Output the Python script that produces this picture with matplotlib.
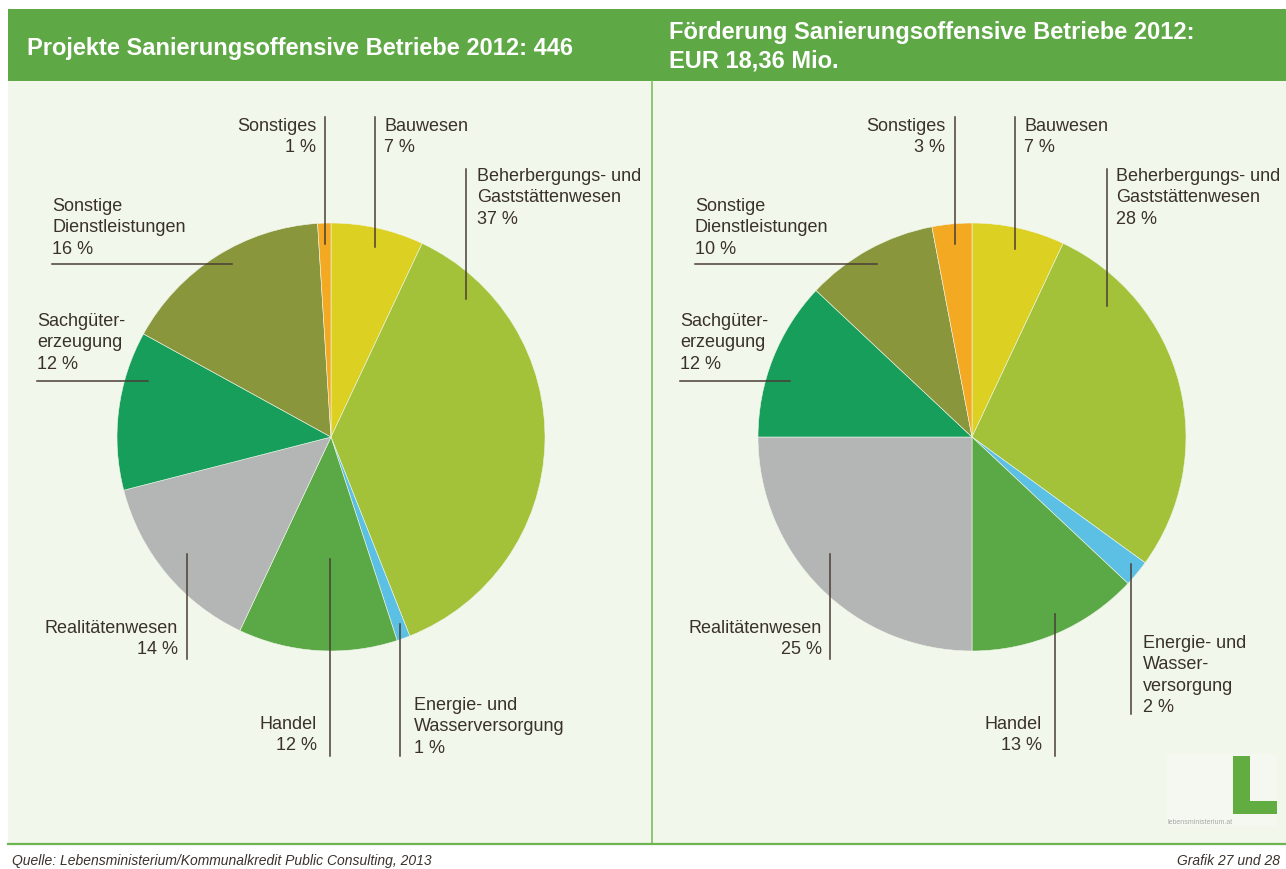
import numpy as np
import matplotlib.pyplot as plt
from matplotlib.patches import Rectangle, Polygon

plt.rcParams['font.family'] = ['Liberation Sans', 'DejaVu Sans']

# data (clockwise from 12 o'clock)
categories = ['Bauwesen', 'Beherbergungs- und Gaststättenwesen', 'Energie- und Wasserversorgung',
              'Handel', 'Realitätenwesen', 'Sachgütererzeugung', 'Sonstige Dienstleistungen', 'Sonstiges']
projekte_pct = [7, 37, 1, 12, 14, 12, 16, 1]
foerderung_pct = [7, 28, 2, 13, 25, 12, 10, 3]
colors = ['#dcd022', '#a3c23a', '#5bc0e4', '#5ba846', '#b3b6b5', '#169e5a', '#8a963c', '#f4a922']

names_left = ['Bauwesen', 'Beherbergungs- und\nGaststättenwesen', 'Energie- und\nWasserversorgung',
              'Handel', 'Realitätenwesen', 'Sachgüter-\nerzeugung', 'Sonstige\nDienstleistungen', 'Sonstiges']
names_right = ['Bauwesen', 'Beherbergungs- und\nGaststättenwesen', 'Energie- und\nWasser-\nversorgung',
               'Handel', 'Realitätenwesen', 'Sachgüter-\nerzeugung', 'Sonstige\nDienstleistungen', 'Sonstiges']

title_left = 'Projekte Sanierungsoffensive Betriebe 2012: 446'
title_right = 'Förderung Sanierungsoffensive Betriebe 2012:\nEUR 18,36 Mio.'

# label layout in pixels: text x, text y, alignment, leader line
layout_left = [
    (384, 118, 'left', (375, 118, 375, 248)),
    (477, 168, 'left', (466, 170, 466, 300)),
    (414, 697, 'left', (400, 625, 400, 757)),
    (317, 716, 'right', (330, 560, 330, 757)),
    (178, 620, 'right', (187, 555, 187, 660)),
    (37, 313, 'left', (37, 382, 148, 382)),
    (52, 198, 'left', (52, 265, 232, 265)),
    (316, 118, 'right', (325, 118, 325, 245)),
]
layout_right = [
    (1024, 118, 'left', (1015, 118, 1015, 250)),
    (1116, 168, 'left', (1107, 170, 1107, 307)),
    (1143, 635, 'left', (1131, 565, 1131, 715)),
    (1042, 716, 'right', (1055, 615, 1055, 757)),
    (822, 620, 'right', (830, 555, 830, 660)),
    (680, 313, 'left', (680, 382, 790, 382)),
    (695, 198, 'left', (695, 265, 877, 265)),
    (945, 118, 'right', (955, 118, 955, 245)),
]

W, H = 1286, 870
green = '#5fa846'
panel = '#f1f7ea'
line_col = '#4a3f36'
text_col = '#3a312b'

fig = plt.figure(figsize=(W / 100, H / 100), dpi=100)
fig.patch.set_facecolor('white')

# background axes in pixel coordinates
bg = fig.add_axes([0, 0, 1, 1], zorder=0)
bg.set_xlim(0, W)
bg.set_ylim(H, 0)
bg.axis('off')
bg.add_patch(Rectangle((8, 82), W - 8, 763, color=panel, lw=0))
bg.add_patch(Rectangle((8, 10), W - 8, 72, color=green, lw=0))
bg.plot([652, 652], [82, 845], color='#7dbd5f', lw=1.2)
bg.plot([8, W], [845, 845], color='#6db552', lw=1.6)

bg.text(27, 48, title_left, color='white', fontsize=17, fontweight='bold', va='center', ha='left')
bg.text(669, 47, title_right, color='white', fontsize=17, fontweight='bold', va='center', ha='left',
        linespacing=1.3)

bg.text(12, 861, 'Quelle: Lebensministerium/Kommunalkredit Public Consulting, 2013',
        fontsize=10, style='italic', color=text_col, va='center', ha='left')
bg.text(1280, 861, 'Grafik 27 und 28', fontsize=10, style='italic', color=text_col,
        va='center', ha='right')

# logo
bg.add_patch(Rectangle((1167, 755), 110, 72, color='#f5f8f1', lw=0))
bg.add_patch(Polygon([(1233, 757), (1250, 757), (1250, 802), (1277, 802), (1277, 815), (1233, 815)],
                     closed=True, color='#62ad42', lw=0))
bg.text(1168, 823, 'lebensministerium.at', fontsize=5, color='#a8aaa6', va='center', ha='left')

# pies
for cx, values in [(331, projekte_pct), (972, foerderung_pct)]:
    r = 214
    ax = fig.add_axes([(cx - r) / W, (H - 438 - r) / H, 2 * r / W, 2 * r / H], zorder=1)
    ax.pie(values, colors=colors, startangle=90, counterclock=False,
           wedgeprops=dict(edgecolor=panel, linewidth=0.4))
    ax.set_xlim(-1, 1)
    ax.set_ylim(-1, 1)
    ax.set_aspect('equal')
    ax.axis('off')

# labels and leader lines on top
ov = fig.add_axes([0, 0, 1, 1], zorder=2)
ov.set_xlim(0, W)
ov.set_ylim(H, 0)
ov.axis('off')
ov.patch.set_alpha(0)
for names, values, layout in [(names_left, projekte_pct, layout_left),
                              (names_right, foerderung_pct, layout_right)]:
    for name, v, (tx, ty, ha, seg) in zip(names, values, layout):
        ov.plot([seg[0], seg[2]], [seg[1], seg[3]], color=line_col, lw=1.1)
        ov.text(tx, ty, f'{name}\n{v} %', fontsize=13, color=text_col, ha=ha, va='top',
                multialignment=ha, linespacing=1.33)

fig.savefig('out.png', dpi=100)
